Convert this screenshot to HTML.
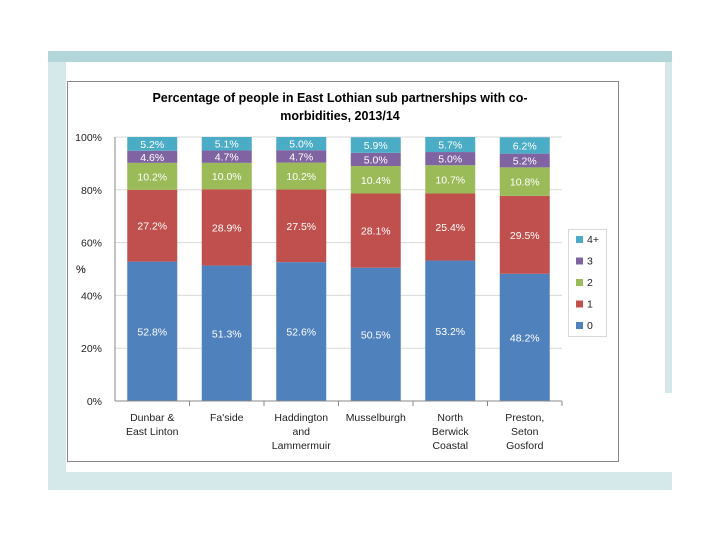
<!DOCTYPE html>
<html><head><meta charset="utf-8"><style>
body{margin:0;width:720px;height:540px;background:#fff;overflow:hidden;font-family:"Liberation Sans",sans-serif}
</style></head><body>
<svg width="720" height="540" xmlns="http://www.w3.org/2000/svg">
<rect x="48" y="51" width="624" height="439" fill="#d5e8ea"/>
<rect x="48" y="51" width="624" height="11" fill="#b3d6db"/>
<rect x="66" y="62" width="599" height="410" fill="#fff"/>
<rect x="665" y="393" width="7" height="79" fill="#fff"/>
<rect x="67.5" y="81.5" width="551" height="380" fill="#fff" stroke="#888" stroke-width="1"/>
<text x="340" y="102" text-anchor="middle" font-size="12.5" font-weight="bold">Percentage of people in East Lothian sub partnerships with co-</text>
<text x="340" y="120" text-anchor="middle" font-size="12.5" font-weight="bold">morbidities, 2013/14</text>
<text x="76" y="273" font-size="11">%</text>
<g id="grid"></g><g id="bars"></g><g id="axis"></g><g id="legend"></g>
</svg>
<script>
const categories=[["Dunbar &","East Linton"],["Fa'side"],["Haddington","and","Lammermuir"],["Musselburgh"],["North","Berwick","Coastal"],["Preston,","Seton","Gosford"]];
const s0=[52.8,51.3,52.6,50.5,53.2,48.2];
const s1=[27.2,28.9,27.5,28.1,25.4,29.5];
const s2=[10.2,10.0,10.2,10.4,10.7,10.8];
const s3=[4.6,4.7,4.7,5.0,5.0,5.2];
const s4=[5.2,5.1,5.0,5.9,5.7,6.2];
const seriesNames=["0","1","2","3","4+"];
const yTicks=[0,20,40,60,80,100];
const series=[s0,s1,s2,s3,s4];
const colors=["#4f81bd","#c0504d","#9bbb59","#8064a2","#4bacc6"];
const NS="http://www.w3.org/2000/svg";
const x0=115,x1=562,yb=401,yt=137;
const bw=(x1-x0)/categories.length;
const Y=v=>yb-(v/100)*(yb-yt);
const X=i=>x0+bw*i+bw/2;
function mk(tag,attrs,parent,txt){const e=document.createElementNS(NS,tag);for(const k in attrs)e.setAttribute(k,attrs[k]);if(txt!==undefined)e.textContent=txt;document.getElementById(parent).appendChild(e);return e;}
yTicks.forEach(t=>{
 const g=mk("line",{x1:x0,x2:x1,y1:Y(t),y2:Y(t),stroke:"#d9d9d9"},"grid");
 
 
 const l=mk("text",{x:x0-13,y:Y(t)+4,"text-anchor":"end","font-size":"10.5",fill:"#222"},"axis",t+"%");
 
 
});
categories.forEach((c,i)=>{
 let cum=0;
 series.forEach((s,k)=>{
  const v=s[i];
  const r=mk("rect",{x:X(i)-25,y:Y(cum+v),width:50,height:Y(cum)-Y(cum+v),fill:colors[k]},"bars");
  
  
  const t=mk("text",{x:X(i),y:(Y(cum)+Y(cum+v))/2+4,"text-anchor":"middle","font-size":"10.5",fill:"#fff"},"bars",v.toFixed(1)+"%");
  
  
  cum+=v;
 });
 c.forEach((ln,j)=>{
  const t=mk("text",{x:X(i),y:421+j*14,"text-anchor":"middle","font-size":"10.5",fill:"#222"},"axis",ln);
  
  
 });
 const tk=mk("line",{x1:x0+bw*(i+1),x2:x0+bw*(i+1),y1:yb,y2:yb+5,stroke:"#888"},"axis");
 
 
});
mk("line",{x1:x0,x2:x1,y1:yb,y2:yb,stroke:"#888"},"axis");
mk("line",{x1:x0,x2:x0,y1:yt,y2:yb,stroke:"#888"},"axis");
const lb=mk("rect",{x:568.5,y:229.5,width:38,height:107,fill:"#fff",stroke:"#d9d9d9"},"legend");


for(let k=4;k>=0;k--){
 const yy=236+(4-k)*21.5;
 const sw=mk("rect",{x:576,y:yy,width:7,height:7,fill:colors[k]},"legend");
 
 
 const t=mk("text",{x:587,y:yy+7,"font-size":"10.5",fill:"#222"},"legend",seriesNames[k]);
 
 
}
</script>
</body></html>
